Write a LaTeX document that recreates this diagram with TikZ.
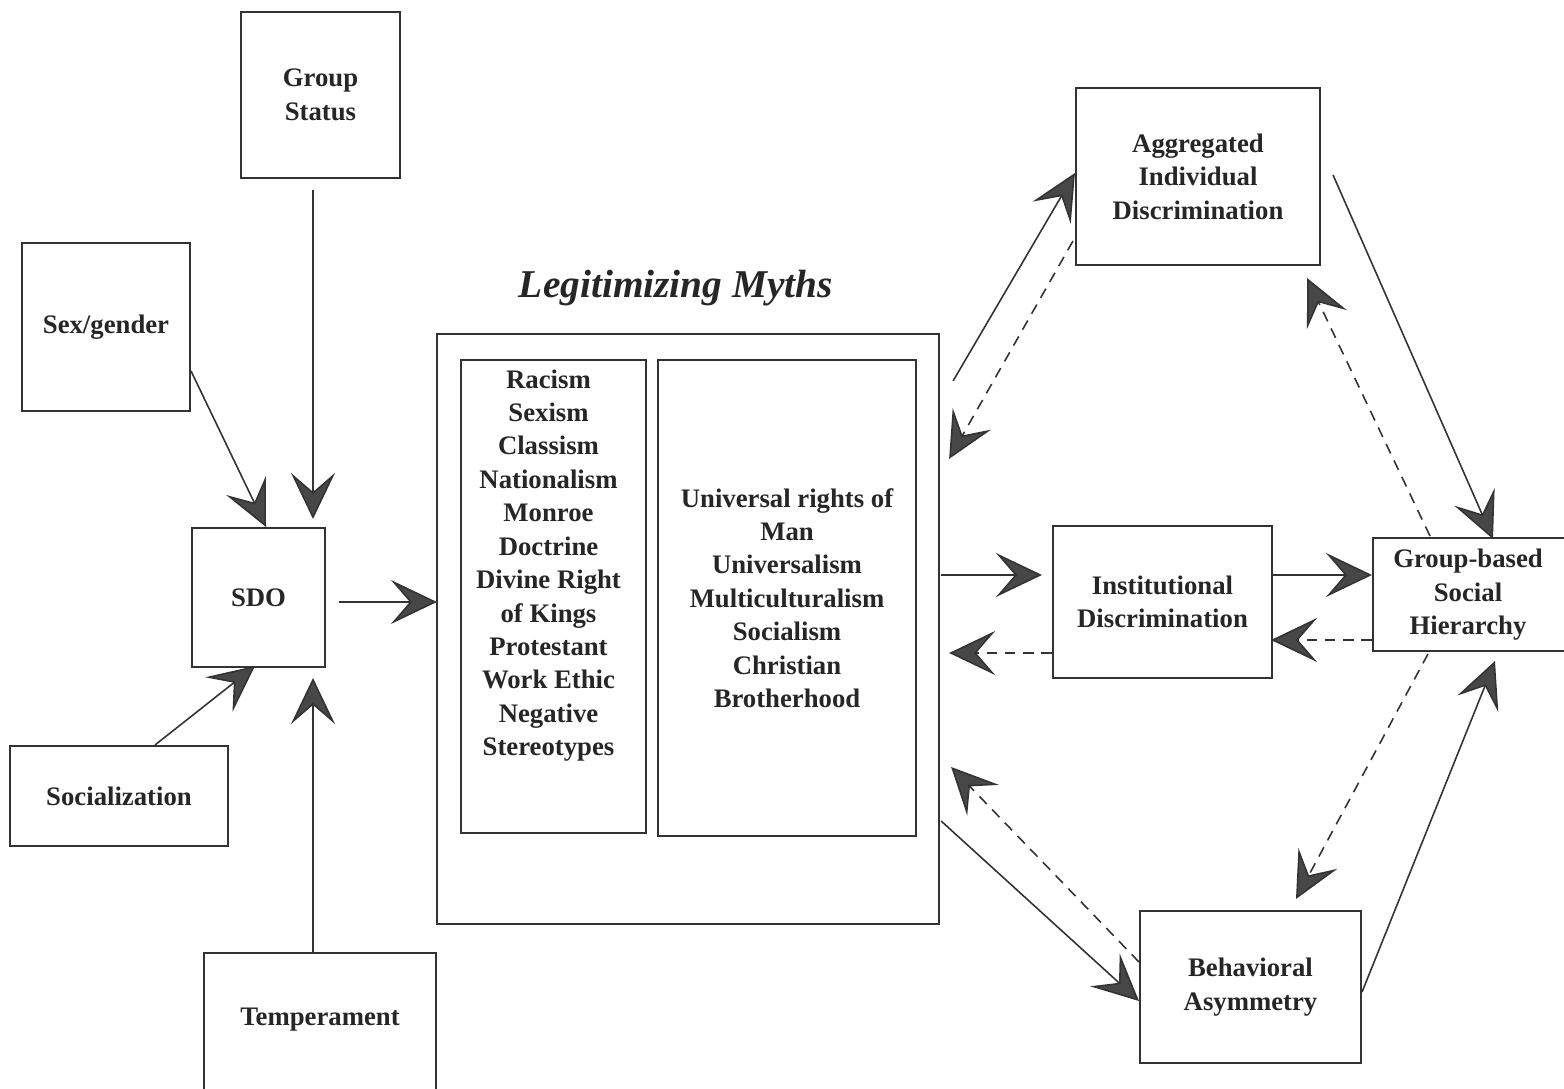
\documentclass[tikz,border=0pt]{standalone}
\usepackage{fontspec}
\setmainfont{Liberation Serif}
\usetikzlibrary{arrows.meta,calc,positioning}

\begin{document}
\begin{tikzpicture}[x=0.01cm, y=-0.01cm,
  txt/.style={inner sep=0pt, align=center, text=black!85,
    font=\fontsize{7.6}{9.5}\selectfont\bfseries},
  box/.style={txt, draw=black!80, line width=0.55pt},
  link/.style={draw=black!80, line width=0.45pt,
    -{Stealth[length=0.46cm, width=0.44cm, inset=0.19cm, fill=black!72]}},
  back/.style={link, dash pattern=on 3pt off 2.2pt}]
\useasboundingbox (0,0) rectangle (1564,1089);

% causes of SDO
\node[box, minimum width=1.59cm, minimum height=1.66cm] (gs) at (320.5,95) {Group\\Status};
\node[box, minimum width=1.68cm, minimum height=1.68cm] (sex) at (106,327) {Sex/gender};
\node[box, minimum width=1.33cm, minimum height=1.39cm] (sdo) at (258.5,597.5) {SDO};
\node[box, minimum width=2.18cm, minimum height=1.00cm] (soc) at (119,796) {Socialization};
\node[box, minimum width=2.32cm, minimum height=1.57cm] (temp) at (320,1031.5) {};
\node[txt] (templabel) at (320,1020) {Temperament};

% legitimizing myths
\node[box, minimum width=5.02cm, minimum height=5.90cm] (myths) at (688,629) {};
\node[txt, font=\fontsize{11.2}{13}\selectfont\bfseries\itshape, above=0.26cm of myths, xshift=-0.12cm] (mythtitle) {Legitimizing Myths};
\node[box, minimum width=1.85cm, minimum height=4.73cm] (enhance) at (553.5,596.5) {};
\node[txt, below=0.1cm of enhance.north, xshift=-0.05cm] (enhancetext) {Racism\\Sexism\\Classism\\Nationalism\\Monroe\\Doctrine\\Divine Right\\of Kings\\Protestant\\Work Ethic\\Negative\\Stereotypes};
\node[box, minimum width=2.58cm, minimum height=4.76cm] (attenuate) at (787,598) {Universal rights of\\Man\\Universalism\\Multiculturalism\\Socialism\\Christian\\Brotherhood};

% outcomes
\node[box, minimum width=2.44cm, minimum height=1.77cm] (agg) at (1198,176.5) {Aggregated\\Individual\\Discrimination};
\node[box, minimum width=2.19cm, minimum height=1.52cm] (inst) at (1162.5,602) {Institutional\\Discrimination};
\node[box, minimum width=2.10cm, minimum height=1.13cm] (ghs) at (1478,594.5) {};
\node[txt] (ghslabel) at (1468,595) {Group-based\\Social\\Hierarchy};
\node[box, minimum width=2.21cm, minimum height=1.52cm] (beh) at (1250.5,987) {Behavioral\\Asymmetry};

% arrows into SDO
\draw[link] ($(gs.south)+(-7.5,11)$) -- ($(sdo.north)+(54.5,-8)$);
\draw[link] ($(sex.east)+(0,44)$) -- ($(sdo.north)+(7.5,0)$);
\draw[link] ($(soc.north)+(36,0)$) -- ($(sdo.south)+(-3.5,-2)$);
\draw[link] ($(temp.north)+(-7,0)$) -- ($(sdo.south)+(54.5,10)$);
\draw[link] ($(sdo.east)+(13,4.5)$) -- ($(myths.west)+(1,-27)$);

% myths and outcomes
\draw[link] ($(myths.north east)+(13,48)$) -- ($(agg.west)+(0,-3.5)$);
\draw[back] ($(agg.south west)+(-2,-25)$) -- ($(myths.north east)+(9,126)$);
\draw[link] ($(myths.east)+(1,-54)$) -- ($(inst.west)+(-10,-27)$);
\draw[back] ($(inst.west)+(0,51)$) -- ($(myths.east)+(9,24)$);
\draw[link] ($(myths.east)+(1,192)$) -- ($(beh.west)+(0,14)$);
\draw[back] ($(beh.west)+(0,-25)$) -- ($(myths.east)+(11,138)$);

% outcomes and hierarchy
\draw[link] ($(agg.east)+(12,-1.5)$) -- ($(ghs.north west)+(121,2)$);
\draw[back] ($(ghs.north west)+(58,-1)$) -- ($(agg.south east)+(-14,12)$);
\draw[link] ($(inst.east)+(0,-27)$) -- ($(ghs.west)+(0,-19.5)$);
\draw[back] ($(ghs.west)+(0,45.5)$) -- ($(inst.east)+(-2,38)$);
\draw[back] ($(ghs.south west)+(56,2)$) -- ($(beh.north)+(45.5,-11)$);
\draw[link] ($(beh.east)+(0,5)$) -- ($(ghs.south west)+(123,9)$);
\end{tikzpicture}
\end{document}
